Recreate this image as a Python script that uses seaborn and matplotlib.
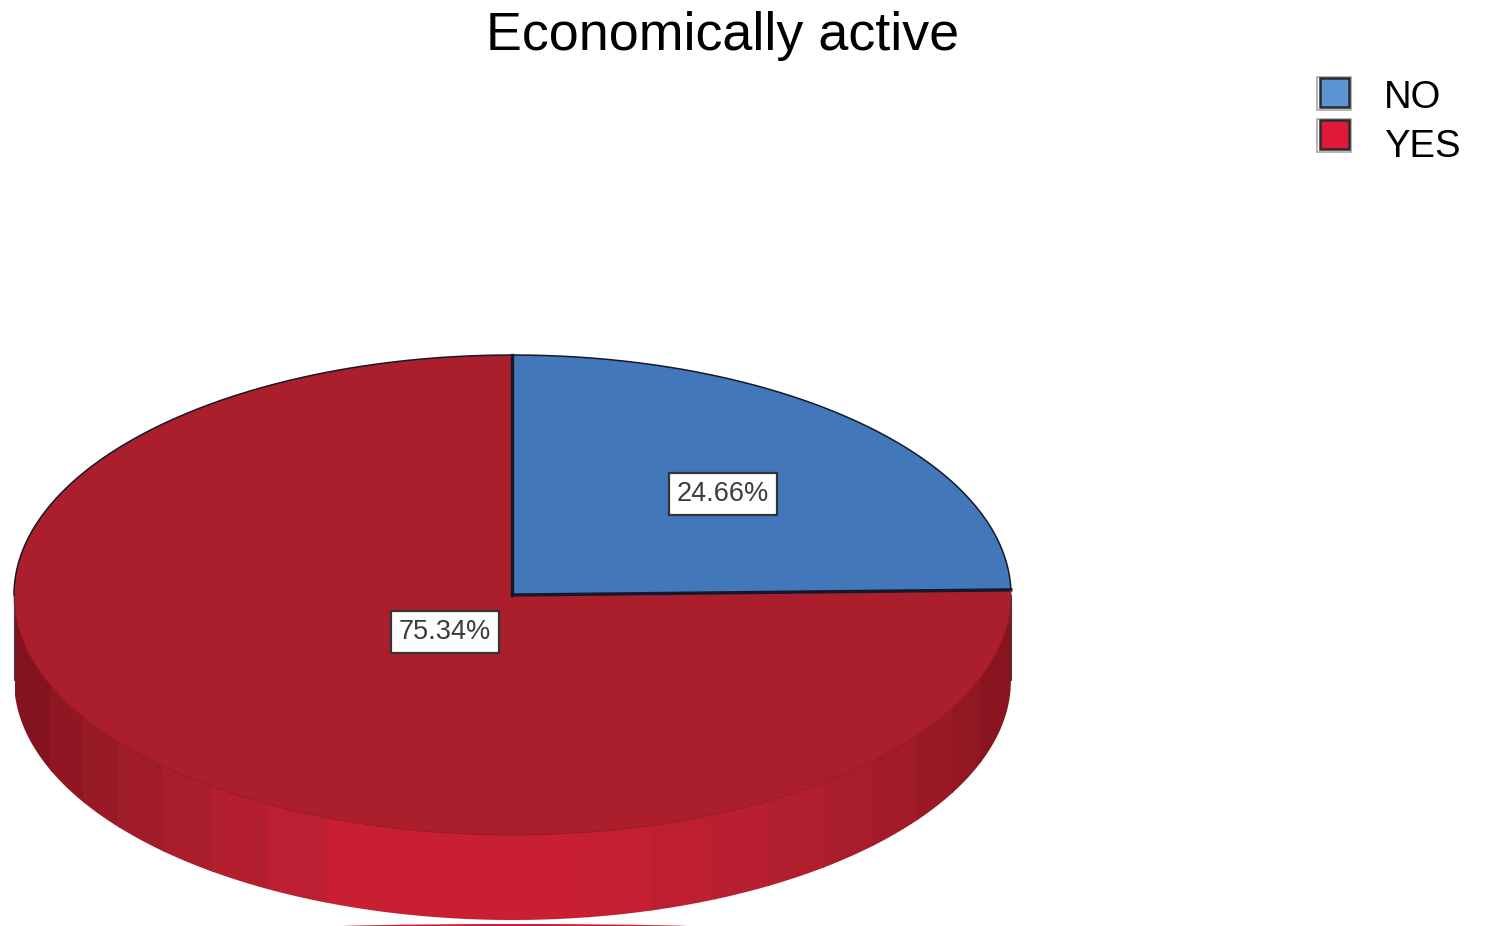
import numpy as np
import matplotlib
matplotlib.use('Agg')
import matplotlib.pyplot as plt
from matplotlib.patches import Ellipse, Rectangle
import seaborn as sns

title = "Economically active"
categories = ["NO", "YES"]
percentages = [24.66, 75.34]

# colours
top_colors = ["#4277b9", "#ab1e2c"]
legend_colors = ["#5b93d3", "#de1a38"]
edge_color = "#14182a"

# the shaded strips round the rim of the pie, left to right (pixels)
rim_edges = [15, 50, 83, 118, 163, 212, 267, 327, 587, 650, 715, 768, 823, 873, 917, 952, 980, 1011]
rim_colors = ["#84121f", "#8f1622", "#981a27", "#a01c2a", "#aa1e2c", "#b31f2f", "#bb1f31", "#c91f33",
              "#c51f32", "#bd1f31", "#b81f30", "#b11e2e", "#a91d2c", "#a21b29", "#9a1926", "#931723", "#8a1320"]

W, H = 1500, 926
CX, CY = 512.5, 595
RX, RY = 498.5, 240
DEPTH = 85 / RY

sns.set_theme(style="white")
plt.rcParams['font.family'] = ['Liberation Sans', 'DejaVu Sans']

fig = plt.figure(figsize=(W / 100, H / 100), dpi=100)
ax = fig.add_axes([0, 0, 1, 1])


def ux(px):
    return (px - CX) / RX


def uy(py):
    return (CY - py) / RY


# rim first, the top of the pie goes over it
# each strip runs a little under the next one so no seams show
for i, c in enumerate(rim_colors):
    xs = np.linspace(max(ux(rim_edges[i]), -1), min(ux(rim_edges[i + 1] + 2), 1), 60)
    lower = -np.sqrt(1 - xs ** 2)
    ax.fill_between(xs, lower + 0.02, lower - DEPTH, facecolor=c, edgecolor='none', lw=0, zorder=1 + i * 0.01)

wedges, _, autotexts = ax.pie(percentages, colors=sns.color_palette(top_colors), startangle=90,
                              counterclock=False, autopct='%.2f%%', pctdistance=0.6,
                              wedgeprops={'linewidth': 0, 'zorder': 3},
                              textprops={'fontsize': 19.5, 'color': '#3c3c3c', 'zorder': 6})
ax.set_aspect('auto')
ax.set_xlim(ux(0), ux(W))
ax.set_ylim(uy(H), uy(0))
ax.axis('off')

# the big slice's label does not sit at the usual distance
autotexts[0].set_position((ux(723), uy(494)))
autotexts[1].set_position((ux(445), uy(632)))
for t in autotexts:
    t.set_bbox(dict(boxstyle='square,pad=0.3', fc='white', ec='#33333a', lw=1.6))

# outlines: thick radii on the blue slice, thin rim above, faint line below
blue = wedges[0]
for ang in [blue.theta1, blue.theta2]:
    a = np.deg2rad(ang)
    ax.plot([0, np.cos(a)], [0, np.sin(a)], color=edge_color, lw=2.4, zorder=4, solid_capstyle='projecting')
t_up = np.linspace(np.deg2rad(blue.theta1), np.pi, 300)
ax.plot(np.cos(t_up), np.sin(t_up), color=edge_color, lw=1.1, zorder=4)
t_low = np.linspace(np.pi, 2 * np.pi + np.deg2rad(blue.theta1), 300)
ax.plot(np.cos(t_low), np.sin(t_low), color="#951a27", lw=0.6, zorder=4)

# dark sides of the rim
for side in [-1, 1]:
    ax.plot([side, side], [0, -DEPTH], color="#4a3a40", lw=0.8, zorder=4)

# cut-off scrap of red along the bottom edge
ax.add_patch(Ellipse((ux(515), uy(928)), 400 / RX, 8 / RY, fc="#c91f33", ec='none', zorder=2))

fig.text(723 / W, 1 - 50 / H, title, ha='center', va='baseline', fontsize=38.8, color='black')

# legend, swatch and label rows are not on the same spacing in the original
for name, c, box_y, text_y in zip(categories, legend_colors, [77, 119], [108, 157]):
    fig.add_artist(Rectangle((1317 / W, 1 - (box_y + 33) / H), 34 / W, 33 / H, transform=fig.transFigure,
                             fc='none', ec='#a8a8a4', lw=1.2))
    fig.add_artist(Rectangle((1320 / W, 1 - (box_y + 30) / H), 29 / W, 29 / H, transform=fig.transFigure,
                             fc=c, ec='#2a2a34', lw=1.8))
    fig.text(1384 / W, 1 - text_y / H, name, ha='left', va='baseline', fontsize=27.5, color='black')

fig.savefig('out.png', dpi=100, facecolor='white')
